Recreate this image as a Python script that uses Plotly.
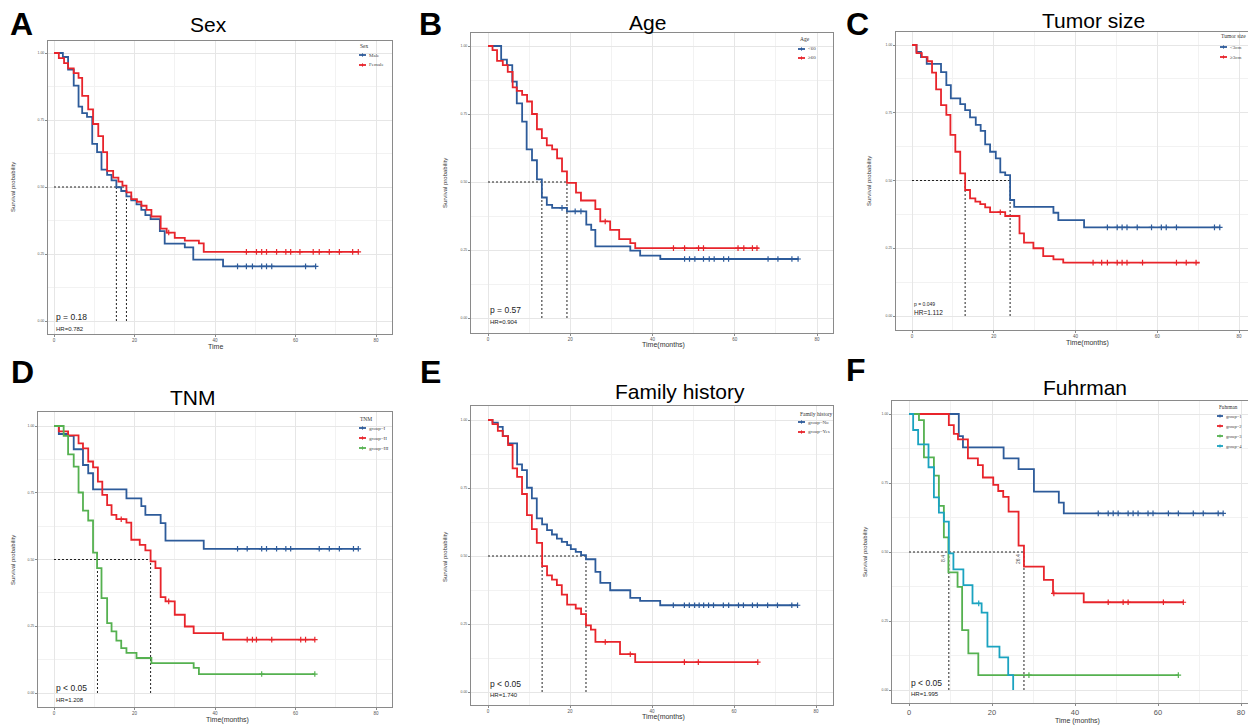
import numpy as np
import plotly.graph_objects as go

W, H = 1248, 725
BLUE = "#2d5b9a"
RED = "#e8242b"
GREEN = "#55b150"
TEAL = "#1ba3c0"

# ---------------- data (time in months, survival probability) ----------------
# A: Sex
A_male_t = [0, 2.2, 3.5, 4.9, 6.1, 7.0, 8.2, 9.5, 10.7, 11.8, 13.2, 14.3, 15.5, 16.7, 18.0, 19.2, 20.5, 21.7, 22.7, 24.0, 26.3, 27.5, 32.5, 34.6, 42.0, 65.0]
A_male_s = [1.0, 0.985, 0.938, 0.878, 0.80, 0.776, 0.762, 0.661, 0.63, 0.565, 0.545, 0.525, 0.499, 0.485, 0.465, 0.45, 0.435, 0.415, 0.395, 0.38, 0.335, 0.289, 0.275, 0.229, 0.204, 0.204]
A_male_cens = [45.6, 47.8, 49.3, 51.6, 52.8, 54.1, 62.5, 65.0]
A_female_t = [0, 1.2, 2.5, 3.5, 4.9, 6.1, 7.0, 8.5, 9.7, 11.0, 12.2, 13.2, 14.7, 16.0, 17.0, 18.0, 19.2, 20.6, 21.7, 23.0, 24.2, 26.5, 28.0, 30.0, 32.5, 36.0, 37.2, 75.6]
A_female_s = [1.0, 0.981, 0.962, 0.943, 0.925, 0.907, 0.84, 0.79, 0.735, 0.69, 0.63, 0.56, 0.535, 0.52, 0.505, 0.48, 0.455, 0.445, 0.43, 0.415, 0.39, 0.345, 0.33, 0.31, 0.30, 0.29, 0.258, 0.258]
A_female_cens = [28.5, 47.8, 50.3, 51.6, 52.8, 55.3, 57.6, 58.8, 61.1, 64.4, 65.9, 68.4, 70.9, 74.2, 75.6]
A_medians = [15.5, 18.0]

# B: Age
B_lt60_t = [0, 3.2, 4.6, 5.9, 7.0, 8.3, 9.4, 10.7, 11.9, 13.1, 14.3, 15.6, 19.2, 23.9, 25.1, 26.1, 34.6, 37.0, 41.9, 75.5]
B_lt60_s = [1.0, 0.95, 0.93, 0.869, 0.789, 0.722, 0.62, 0.58, 0.51, 0.443, 0.416, 0.405, 0.392, 0.343, 0.324, 0.263, 0.248, 0.229, 0.217, 0.217]
B_lt60_cens = [18.0, 21.2, 22.6, 47.8, 49.0, 50.3, 52.4, 53.8, 55.0, 57.3, 58.5, 68.1, 70.5, 73.9, 75.4]
B_ge60_t = [0, 1.1, 2.2, 3.6, 4.8, 6.0, 7.0, 8.3, 9.5, 10.7, 11.9, 13.1, 14.3, 15.6, 16.8, 18.0, 19.2, 21.4, 22.6, 26.1, 27.3, 29.7, 31.9, 34.6, 35.8, 65.8]
B_ge60_s = [1.0, 0.985, 0.945, 0.93, 0.905, 0.848, 0.835, 0.82, 0.796, 0.75, 0.694, 0.661, 0.635, 0.62, 0.587, 0.539, 0.497, 0.461, 0.432, 0.40, 0.355, 0.324, 0.29, 0.275, 0.257, 0.257]
B_ge60_cens = [28.5, 45.1, 47.8, 51.2, 52.4, 60.8, 62.2, 64.3, 65.4]
B_medians = [13.1, 19.2]

# C: Tumor size
C_lt3_t = [0, 1.1, 2.2, 3.6, 7.1, 8.4, 9.5, 11.8, 13.0, 14.2, 15.6, 16.8, 17.9, 19.1, 20.5, 21.6, 22.8, 24.0, 25.0, 34.6, 35.8, 42.1, 75.4]
C_lt3_s = [1.0, 0.975, 0.955, 0.93, 0.90, 0.852, 0.803, 0.782, 0.76, 0.733, 0.705, 0.683, 0.633, 0.606, 0.582, 0.530, 0.52, 0.428, 0.403, 0.381, 0.354, 0.327, 0.327]
C_lt3_cens = [47.8, 50.2, 51.4, 52.6, 55.1, 58.6, 61.0, 62.2, 64.7, 74.0, 75.3]
C_ge3_t = [0, 1.1, 2.4, 3.8, 4.9, 5.9, 7.1, 8.4, 9.4, 10.6, 11.8, 13.0, 14.2, 15.5, 16.7, 17.9, 19.1, 22.8, 26.3, 27.4, 29.7, 32.1, 34.6, 37.0, 70.4]
C_ge3_s = [1.0, 0.97, 0.955, 0.94, 0.898, 0.836, 0.778, 0.742, 0.668, 0.606, 0.526, 0.465, 0.434, 0.422, 0.413, 0.401, 0.383, 0.369, 0.305, 0.271, 0.25, 0.221, 0.209, 0.197, 0.197]
C_ge3_cens = [21.6, 44.3, 46.4, 47.8, 50.2, 51.4, 52.6, 56.4, 64.7, 67.1, 69.5]
C_medians = [13.0, 24.0]

# D: TNM
D_I_t = [0, 1.2, 3.5, 4.9, 7.2, 8.5, 9.7, 18.0, 21.7, 22.7, 26.5, 27.7, 37.2, 75.6]
D_I_s = [1.0, 0.97, 0.963, 0.913, 0.854, 0.823, 0.763, 0.729, 0.70, 0.667, 0.636, 0.571, 0.54, 0.54]
D_I_cens = [45.6, 48.0, 51.6, 52.8, 55.3, 57.6, 58.8, 65.9, 68.4, 70.9, 74.4, 75.6]
D_II_t = [0, 1.2, 3.5, 6.1, 7.2, 8.5, 9.7, 10.9, 12.0, 13.2, 14.3, 15.5, 18.0, 19.2, 21.3, 22.7, 24.0, 25.2, 26.5, 27.7, 30.0, 32.5, 34.7, 42.0, 64.8]
D_II_s = [1.0, 0.98, 0.965, 0.935, 0.916, 0.867, 0.845, 0.792, 0.742, 0.704, 0.667, 0.651, 0.638, 0.574, 0.555, 0.534, 0.493, 0.468, 0.359, 0.343, 0.293, 0.249, 0.224, 0.20, 0.20]
D_II_cens = [16.7, 28.5, 48.0, 49.3, 50.3, 54.1, 61.3, 62.5, 64.8]
D_III_t = [0, 2.4, 3.5, 4.9, 6.1, 7.2, 8.5, 9.7, 10.7, 11.8, 13.2, 14.3, 15.5, 16.7, 18.0, 20.5, 24.2, 34.7, 36.0, 64.8]
D_III_s = [1.0, 0.963, 0.894, 0.848, 0.751, 0.683, 0.646, 0.526, 0.468, 0.355, 0.262, 0.231, 0.196, 0.168, 0.15, 0.131, 0.112, 0.094, 0.071, 0.071]
D_III_cens = [51.6, 64.8]
D_medians = [10.8, 24.0]

# E: Family history
E_no_t = [0, 1.1, 2.4, 3.6, 4.9, 7.1, 8.3, 9.5, 10.7, 11.9, 13.2, 14.4, 15.6, 16.8, 18.0, 19.3, 20.2, 21.4, 22.7, 23.9, 26.2, 27.4, 29.8, 34.7, 37.1, 42.0, 75.5]
E_no_s = [1.0, 0.99, 0.975, 0.941, 0.914, 0.837, 0.816, 0.751, 0.712, 0.638, 0.616, 0.595, 0.579, 0.564, 0.552, 0.54, 0.525, 0.515, 0.503, 0.488, 0.442, 0.401, 0.374, 0.346, 0.335, 0.319, 0.319]
E_no_cens = [45.2, 47.9, 49.1, 50.4, 51.5, 52.6, 53.8, 55.0, 57.4, 58.7, 61.1, 62.3, 64.5, 65.7, 68.2, 70.6, 74.1, 75.5]
E_yes_t = [0, 1.1, 2.4, 3.6, 4.9, 6.0, 7.1, 8.3, 9.5, 10.7, 11.9, 13.2, 14.4, 15.6, 16.8, 18.0, 19.3, 21.4, 22.7, 23.9, 25.1, 26.2, 32.2, 35.9, 65.8]
E_yes_s = [1.0, 0.985, 0.96, 0.941, 0.908, 0.822, 0.791, 0.728, 0.65, 0.599, 0.548, 0.463, 0.429, 0.413, 0.393, 0.358, 0.321, 0.307, 0.286, 0.245, 0.229, 0.184, 0.139, 0.11, 0.11]
E_yes_cens = [28.6, 34.7, 47.9, 51.3, 65.8]
E_medians = [13.2, 23.9]

# F: Fuhrman
F_g1_t = [0, 12.0, 13.0, 22.8, 26.4, 30.1, 36.1, 37.3, 75.7]
F_g1_s = [1.0, 0.92, 0.879, 0.839, 0.80, 0.719, 0.679, 0.64, 0.64]
F_g1_cens = [45.6, 48.0, 49.2, 50.4, 52.8, 54.0, 55.2, 57.6, 58.8, 62.5, 64.9, 68.5, 70.9, 74.5, 75.7]
F_g2_t = [0, 9.6, 10.8, 11.8, 14.2, 16.6, 17.8, 20.3, 21.5, 22.7, 24.0, 26.4, 27.7, 32.5, 34.7, 42.1, 66.1]
F_g2_s = [1.0, 0.96, 0.928, 0.908, 0.839, 0.815, 0.77, 0.743, 0.721, 0.70, 0.646, 0.523, 0.447, 0.399, 0.35, 0.318, 0.318]
F_g2_cens = [34.9, 48.0, 51.6, 52.8, 61.3, 66.1]
F_g3_t = [0, 2.4, 3.6, 6.0, 7.2, 8.4, 9.5, 11.7, 12.8, 14.3, 16.7, 64.9]
F_g3_s = [1.0, 0.978, 0.843, 0.777, 0.667, 0.553, 0.426, 0.374, 0.217, 0.133, 0.054, 0.054]
F_g3_cens = [28.9, 64.9]
F_g4_t = [0, 1.0, 2.2, 4.7, 6.0, 7.2, 8.4, 9.6, 10.7, 13.1, 15.3, 17.5, 18.9, 21.8, 23.9, 25.1]
F_g4_s = [1.0, 0.942, 0.89, 0.807, 0.698, 0.643, 0.61, 0.495, 0.437, 0.38, 0.314, 0.28, 0.157, 0.118, 0.054, 0.0]
F_g4_cens = [16.8]
F_medians = [9.6, 27.7]
F_median_labels = ["8.4", "26.4"]

x_ticks = [0, 20, 40, 60, 80]
y_ticks = [0.0, 0.25, 0.5, 0.75, 1.0]

# ---------------- panel layout (pixel geometry) ----------------
panels = [
    dict(letter="A", title="Sex", letter_xy=(21, 24), title_xy=(208, 24),
         box=(48, 41, 392, 334), x0=54, x80=376, y1=53, y0=321,
         curves=[(A_male_t, A_male_s, A_male_cens, BLUE), (A_female_t, A_female_s, A_female_cens, RED)],
         medians=A_medians, p=("p = 0.18", 8.5, 0.015), hr=("HR=0.782", 6, -0.03),
         xlab="Time", xlab_xy=(215, 346), ylab_xy=(13, 187),
         leg_title="Sex", leg_xy=(358, 46), leg_names=["Male", "Female"], leg_ys=[55, 65], leg_sym=(359, 366)),
    dict(letter="B", title="Age", letter_xy=(430, 24), title_xy=(647, 22),
         box=(471, 33, 833, 333), x0=488, x80=817, y1=46, y0=318,
         curves=[(B_lt60_t, B_lt60_s, B_lt60_cens, BLUE), (B_ge60_t, B_ge60_s, B_ge60_cens, RED)],
         medians=B_medians, p=("p = 0.57", 8.5, 0.03), hr=("HR=0.904", 6, -0.015),
         xlab="Time(months)", xlab_xy=(663, 345), ylab_xy=(445, 183),
         leg_title="Age", leg_xy=(798, 39), leg_names=["<60", "≥60"], leg_ys=[49, 58], leg_sym=(798, 805)),
    dict(letter="C", title="Tumor size", letter_xy=(857, 24), title_xy=(1093, 21),
         box=(896, 32, 1248, 330), x0=912, x80=1239, y1=45, y0=316,
         curves=[(C_lt3_t, C_lt3_s, C_lt3_cens, BLUE), (C_ge3_t, C_ge3_s, C_ge3_cens, RED)],
         medians=C_medians, p=("p = 0.049", 5, 0.045), hr=("HR=1.112", 6.5, 0.012),
         xlab="Time(months)", xlab_xy=(1087, 343), ylab_xy=(869, 181),
         leg_title="Tumor size", leg_xy=(1219, 36), leg_names=["<3cm", "≥3cm"], leg_ys=[47, 57], leg_sym=(1220, 1227)),
    dict(letter="D", title="TNM", letter_xy=(22, 372), title_xy=(193, 397),
         box=(38, 412, 392, 707), x0=54, x80=376, y1=426, y0=693,
         curves=[(D_I_t, D_I_s, D_I_cens, BLUE), (D_II_t, D_II_s, D_II_cens, RED), (D_III_t, D_III_s, D_III_cens, GREEN)],
         medians=D_medians, p=("p < 0.05", 8.5, 0.02), hr=("HR=1.208", 6, -0.027),
         xlab="Time(months)", xlab_xy=(227, 720), ylab_xy=(13, 560),
         leg_title="TNM", leg_xy=(358, 419), leg_names=["group=I", "group=II", "group=III"], leg_ys=[428, 438, 448], leg_sym=(359, 366)),
    dict(letter="E", title="Family history", letter_xy=(430, 372), title_xy=(680, 392),
         box=(471, 406, 833, 705), x0=488, x80=816, y1=420, y0=692,
         curves=[(E_no_t, E_no_s, E_no_cens, BLUE), (E_yes_t, E_yes_s, E_yes_cens, RED)],
         medians=E_medians, p=("p < 0.05", 8.5, 0.03), hr=("HR=1.740", 6, -0.012),
         xlab="Time(months)", xlab_xy=(663, 717), ylab_xy=(445, 557),
         leg_title="Family history", leg_xy=(798, 414), leg_names=["group=No", "group=Yes"], leg_ys=[422, 432], leg_sym=(798, 805)),
    dict(letter="F", title="Fuhrman", letter_xy=(856, 370), title_xy=(1085, 387),
         box=(892, 401, 1248, 703), x0=909, x80=1241, y1=414, y0=690,
         curves=[(F_g1_t, F_g1_s, F_g1_cens, BLUE), (F_g2_t, F_g2_s, F_g2_cens, RED),
                 (F_g3_t, F_g3_s, F_g3_cens, GREEN), (F_g4_t, F_g4_s, F_g4_cens, TEAL)],
         medians=F_medians, p=("p < 0.05", 8.5, 0.024), hr=("HR=1.995", 6, -0.016),
         xlab="Time (months)", xlab_xy=(1077, 721), ylab_xy=(865, 552),
         leg_title="Fuhrman", leg_xy=(1217, 407), leg_names=["group=1", "group=2", "group=3", "group=4"],
         leg_ys=[416, 426, 436, 446], leg_sym=(1217, 1223), xtick_size=7.5, leg_size=4.6),
]

SANS = "Liberation Sans, Arial, sans-serif"
SERIF = "Liberation Serif, Times New Roman, serif"


def fx(x):
    return x / W


def fy(y):
    return 1 - y / H


def surv_at(t, times, surv):
    idx = int(np.searchsorted(times, t, side="right")) - 1
    return surv[max(idx, 0)]


fig = go.Figure()
layout = dict(width=W, height=H, margin=dict(l=0, r=0, t=0, b=0),
              paper_bgcolor="white", plot_bgcolor="white", showlegend=False)
annotations = []
shapes = []

for i, p in enumerate(panels, start=1):
    xa = "x" if i == 1 else f"x{i}"
    ya = "y" if i == 1 else f"y{i}"
    L, T, R, B = p["box"]
    sx = (p["x80"] - p["x0"]) / 80.0
    sy = (p["y0"] - p["y1"]) * 1.0
    xr = [(L - p["x0"]) / sx, (R - p["x0"]) / sx]
    yr = [(p["y0"] - B) / sy, (p["y0"] - T) / sy]
    axis_common = dict(showline=True, mirror=True, linecolor="#8a8a8a", linewidth=1,
                       showgrid=True, gridcolor="#e6e6e6", gridwidth=0.7, zeroline=False,
                       ticks="outside", ticklen=2, tickcolor="#8a8a8a", tickwidth=0.6)
    layout["xaxis" if i == 1 else f"xaxis{i}"] = dict(
        domain=[fx(L), fx(R)], range=xr, anchor=ya, tickvals=x_ticks,
        ticktext=[str(v) for v in x_ticks],
        tickfont=dict(family=SANS, size=p.get("xtick_size", 4.5), color="#555555"),
        minor=dict(showgrid=True, gridcolor="#f2f2f2", gridwidth=0.5, tickvals=[10, 30, 50, 70]),
        **axis_common)
    layout["yaxis" if i == 1 else f"yaxis{i}"] = dict(
        domain=[fy(B), fy(T)], range=yr, anchor=xa, tickvals=y_ticks,
        ticktext=[f"{v:.2f}" for v in y_ticks],
        tickfont=dict(family=SANS, size=3.5, color="#555555"),
        minor=dict(showgrid=True, gridcolor="#f2f2f2", gridwidth=0.5, tickvals=[0.125, 0.375, 0.625, 0.875]),
        **axis_common)

    # median lines
    med = p["medians"]
    fig.add_trace(go.Scatter(x=[0, max(med)], y=[0.5, 0.5], mode="lines",
                             line=dict(color="#222222", width=1, dash="2px,2px"),
                             xaxis=xa, yaxis=ya, hoverinfo="skip", showlegend=False))
    for m in med:
        fig.add_trace(go.Scatter(x=[m, m], y=[0, 0.5], mode="lines",
                                 line=dict(color="#222222", width=1, dash="2px,2px"),
                                 xaxis=xa, yaxis=ya, hoverinfo="skip", showlegend=False))

    # curves
    for (t, s, cens, col) in p["curves"]:
        fig.add_trace(go.Scatter(x=t, y=s, mode="lines", line=dict(shape="hv", color=col, width=1.8),
                                 xaxis=xa, yaxis=ya, hoverinfo="skip", showlegend=False))
        cy = [surv_at(c, t, s) for c in cens]
        fig.add_trace(go.Scatter(x=cens, y=cy, mode="markers",
                                 marker=dict(symbol="cross-thin", size=4, line=dict(width=1.2, color=col)),
                                 xaxis=xa, yaxis=ya, hoverinfo="skip", showlegend=False))

    # p-value and HR
    ptxt, psz, py = p["p"]
    htxt, hsz, hy = p["hr"]
    annotations.append(dict(x=0.1, y=py, xref=xa, yref=ya, text=ptxt, showarrow=False, xanchor="left",
                            yanchor="middle", font=dict(family=SANS, size=psz, color="#222222")))
    annotations.append(dict(x=0.1, y=hy, xref=xa, yref=ya, text=htxt, showarrow=False, xanchor="left",
                            yanchor="middle", font=dict(family=SANS, size=hsz, color="#222222")))

    # panel letter and title
    lx, ly = p["letter_xy"]
    annotations.append(dict(x=fx(lx), y=fy(ly), xref="paper", yref="paper", text=f"<b>{p['letter']}</b>",
                            showarrow=False, xanchor="center", yanchor="middle",
                            font=dict(family=SANS, size=32, color="black")))
    tx, ty = p["title_xy"]
    annotations.append(dict(x=fx(tx), y=fy(ty), xref="paper", yref="paper", text=p["title"],
                            showarrow=False, xanchor="center", yanchor="middle",
                            font=dict(family=SANS, size=21, color="black")))

    # axis titles
    xx, xy = p["xlab_xy"]
    annotations.append(dict(x=fx(xx), y=fy(xy), xref="paper", yref="paper", text=p["xlab"],
                            showarrow=False, xanchor="center", yanchor="middle",
                            font=dict(family=SANS, size=7, color="#333333")))
    yx, yy = p["ylab_xy"]
    annotations.append(dict(x=fx(yx), y=fy(yy), xref="paper", yref="paper", text="Survival probability",
                            showarrow=False, xanchor="center", yanchor="middle", textangle=-90,
                            font=dict(family=SANS, size=6, color="#333333")))

    # legend
    lsz = p.get("leg_size", 5)
    gx, gy = p["leg_xy"]
    annotations.append(dict(x=fx(gx), y=fy(gy), xref="paper", yref="paper", text=p["leg_title"],
                            showarrow=False, xanchor="left", yanchor="middle",
                            font=dict(family=SERIF, size=lsz + 0.5, color="#333333")))
    s0, s1 = p["leg_sym"]
    for (name, ly2, (_, _, _, col)) in zip(p["leg_names"], p["leg_ys"], p["curves"]):
        shapes.append(dict(type="line", xref="paper", yref="paper", x0=fx(s0), x1=fx(s1),
                           y0=fy(ly2), y1=fy(ly2), line=dict(color=col, width=1.8)))
        shapes.append(dict(type="line", xref="paper", yref="paper", x0=fx((s0 + s1) / 2), x1=fx((s0 + s1) / 2),
                           y0=fy(ly2 - 1.6), y1=fy(ly2 + 1.6), line=dict(color=col, width=1.1)))
        annotations.append(dict(x=fx(s1 + 1.2), y=fy(ly2), xref="paper", yref="paper", text=name,
                                showarrow=False, xanchor="left", yanchor="middle",
                                font=dict(family=SERIF, size=lsz, color="#444444")))

# Fuhrman median labels
for m, lab in zip(F_medians, F_median_labels):
    annotations.append(dict(x=m - 1.4, y=0.475, xref="x6", yref="y6", text=lab, showarrow=False,
                            textangle=-90, xanchor="center", yanchor="middle",
                            font=dict(family=SANS, size=5, color="#555555")))

layout["annotations"] = annotations
layout["shapes"] = shapes
fig.update_layout(**layout)
fig.write_html("out.html")
